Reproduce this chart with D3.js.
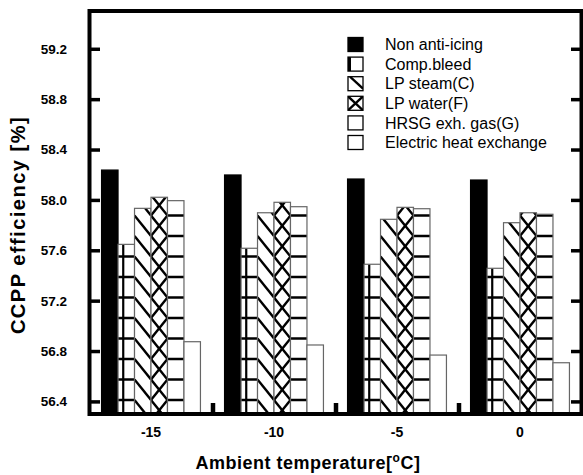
<!DOCTYPE html>
<html><head><meta charset="utf-8">
<script src="https://cdn.jsdelivr.net/npm/d3@7/dist/d3.min.js"></script>
<style>
html,body{margin:0;padding:0;background:#fff;}
svg{display:block;font-family:"Liberation Sans",Arial,sans-serif;}
</style></head>
<body>
<svg id="chart" width="583" height="475"></svg>
<script>
// ---- data ----
const categories = [-15, -10, -5, 0];
const seriesNames = ["Non anti-icing", "Comp.bleed", "LP steam(C)", "LP water(F)", "HRSG exh. gas(G)", "Electric heat exchange"];
const nonAntiIcing = [58.237, 58.198, 58.166, 58.158];
const compBleed    = [57.647, 57.616, 57.489, 57.457];
const lpSteam      = [57.933, 57.898, 57.846, 57.819];
const lpWater      = [58.021, 57.981, 57.941, 57.898];
const hrsgExhGas   = [57.994, 57.946, 57.930, 57.886];
const electricHeat = [56.874, 56.848, 56.768, 56.707];
const yTicks = [56.4, 56.8, 57.2, 57.6, 58.0, 58.4, 58.8, 59.2];
const xMinorTicks = [-12.5, -7.5, -2.5];

const series = [nonAntiIcing, compBleed, lpSteam, lpWater, hrsgExhGas, electricHeat];
const hatchTypes = ["solid", "grid", "diag", "cross", "hlines", "none"];

const svg = d3.select("#chart");
const x = d3.scaleLinear().domain([-17.5, 2.5]).range([89.5, 581.5]);
const y = d3.scaleLinear().domain([56.3, 59.5]).range([414, 11]);

const step = x(5) - x(0);
const bw = step * 0.134;
const hatchP = 20.5;
const hatchY0 = 400;

const defs = svg.append("defs");
const barsG = svg.append("g");

function drawHatch(g, type, x0, x1, yt, yb, gy0, P, withH) {
  const grid = [];
  for (let k = -2; k < 40; k++) {
    const yy = gy0 - k * P;
    if (yy < yt - 2 * P) break;
    grid.push(yy);
  }
  const line = (a, b, c, d, sw) => g.append("line").attr("x1", a).attr("y1", b).attr("x2", c).attr("y2", d)
    .attr("stroke", "#000").attr("stroke-width", sw);
  if ((type === "grid" || type === "hlines") && withH) {
    grid.forEach(yy => { if (yy > yt + 1 && yy < yb) line(x0, yy, x1, yy, 2.6); });
  }
  if (type === "grid") line(x0 + 5.2, yt, x0 + 5.2, yb, 2.2);
  if (type === "diag") grid.forEach(yy => line(x0, yy - P, x1, yy, 2.4));
  if (type === "cross") grid.forEach(yy => { line(x0, yy - P, x1, yy, 2.4); line(x1, yy - P, x0, yy, 2.4); });
}

categories.forEach((c, ci) => {
  series.forEach((s, si) => {
    const x0 = x(c) - 3 * bw + si * bw;
    const x1 = x0 + bw;
    const yt = y(s[ci]);
    const yb = y(56.3);
    const id = `clip-${ci}-${si}`;
    defs.append("clipPath").attr("id", id).append("rect")
      .attr("x", x0).attr("y", yt).attr("width", bw).attr("height", yb - yt);
    const type = hatchTypes[si];
    barsG.append("rect").attr("x", x0).attr("y", yt).attr("width", bw).attr("height", yb - yt)
      .attr("fill", type === "solid" ? "#000" : "#fff");
    if (type !== "solid" && type !== "none") {
      const hg = barsG.append("g").attr("clip-path", `url(#${id})`);
      drawHatch(hg, type, x0, x1, yt, yb, hatchY0, hatchP, true);
    }
    barsG.append("rect").attr("x", x0).attr("y", yt).attr("width", bw).attr("height", yb - yt)
      .attr("fill", "none").attr("stroke", type === "solid" ? "#000" : "#666").attr("stroke-width", 1.2);
  });
});

// frame
svg.append("rect").attr("x", x(-17.5)).attr("y", y(59.5)).attr("width", x(2.5) - x(-17.5)).attr("height", y(56.3) - y(59.5))
  .attr("fill", "none").attr("stroke", "#000").attr("stroke-width", 4);

// y ticks (left and right, inward)
const yAxisL = svg.append("g").attr("transform", `translate(${x(-17.5)},0)`)
  .call(d3.axisRight(y).tickValues(yTicks).tickSize(10.5).tickFormat(""));
yAxisL.select(".domain").remove();
yAxisL.selectAll("line").attr("stroke-width", 3.5);
const yAxisR = svg.append("g").attr("transform", `translate(${x(2.5)},0)`)
  .call(d3.axisLeft(y).tickValues(yTicks).tickSize(10.5).tickFormat(""));
yAxisR.select(".domain").remove();
yAxisR.selectAll("line").attr("stroke-width", 3.5);

// y tick labels
svg.append("g").selectAll("text").data(yTicks).join("text")
  .attr("x", 67).attr("y", d => y(d)).attr("dy", "0.36em")
  .attr("text-anchor", "end").attr("font-weight", "bold").attr("font-size", 13.5)
  .text(d => d.toFixed(1));

// x minor ticks
const xAxisB = svg.append("g").attr("transform", `translate(0,${y(56.3)})`)
  .call(d3.axisTop(x).tickValues(xMinorTicks).tickSize(11).tickFormat(""));
xAxisB.select(".domain").remove();
xAxisB.selectAll("line").attr("stroke-width", 4.5);

// x labels
svg.append("g").selectAll("text").data(categories).join("text")
  .attr("x", d => x(d)).attr("y", 437)
  .attr("text-anchor", "middle").attr("font-weight", "bold").attr("font-size", 14)
  .text(d => d);

// axis titles
const xt = svg.append("text").attr("x", 308).attr("y", 469).attr("text-anchor", "middle")
  .attr("font-weight", "bold").attr("font-size", 18).attr("letter-spacing", 0.5);
xt.append("tspan").text("Ambient temperature[");
xt.append("tspan").attr("font-size", 12).attr("dy", -7).text("o");
xt.append("tspan").attr("dy", 7).text("C]");

svg.append("text").attr("transform", "translate(25,225) rotate(-90)").attr("text-anchor", "middle")
  .attr("font-weight", "bold").attr("font-size", 20).attr("letter-spacing", 1.5)
  .text("CCPP efficiency [%]");

// legend
const lg = svg.append("g");
seriesNames.forEach((n, i) => {
  const cy = 44.5 + i * 19.6;
  const x0 = 348, x1 = 363, yt = cy - 7, yb = cy + 7;
  const type = hatchTypes[i];
  lg.append("rect").attr("x", x0).attr("y", yt).attr("width", x1 - x0).attr("height", yb - yt)
    .attr("fill", type === "solid" ? "#000" : "#fff");
  if (type !== "solid" && type !== "none") {
    const id = `lclip-${i}`;
    defs.append("clipPath").attr("id", id).append("rect")
      .attr("x", x0).attr("y", yt).attr("width", x1 - x0).attr("height", yb - yt);
    const hg = lg.append("g").attr("clip-path", `url(#${id})`);
    if (type === "grid") hg.append("line").attr("x1", x0 + 1.5).attr("y1", yt).attr("x2", x0 + 1.5).attr("y2", yb).attr("stroke", "#000").attr("stroke-width", 3);
    if (type === "diag") hg.append("line").attr("x1", x0 + 2).attr("y1", yt).attr("x2", x1).attr("y2", yb - 2).attr("stroke", "#000").attr("stroke-width", 2.4);
    if (type === "cross") {
      hg.append("line").attr("x1", x0).attr("y1", yt).attr("x2", x1).attr("y2", yb).attr("stroke", "#000").attr("stroke-width", 2.4);
      hg.append("line").attr("x1", x1).attr("y1", yt).attr("x2", x0).attr("y2", yb).attr("stroke", "#000").attr("stroke-width", 2.4);
    }
  }
  lg.append("rect").attr("x", x0).attr("y", yt).attr("width", x1 - x0).attr("height", yb - yt)
    .attr("fill", "none").attr("stroke", "#000").attr("stroke-width", 1.3);
  lg.append("text").attr("x", 385).attr("y", cy).attr("dy", "0.35em").attr("font-size", 16).text(n);
});
</script>
</body></html>
